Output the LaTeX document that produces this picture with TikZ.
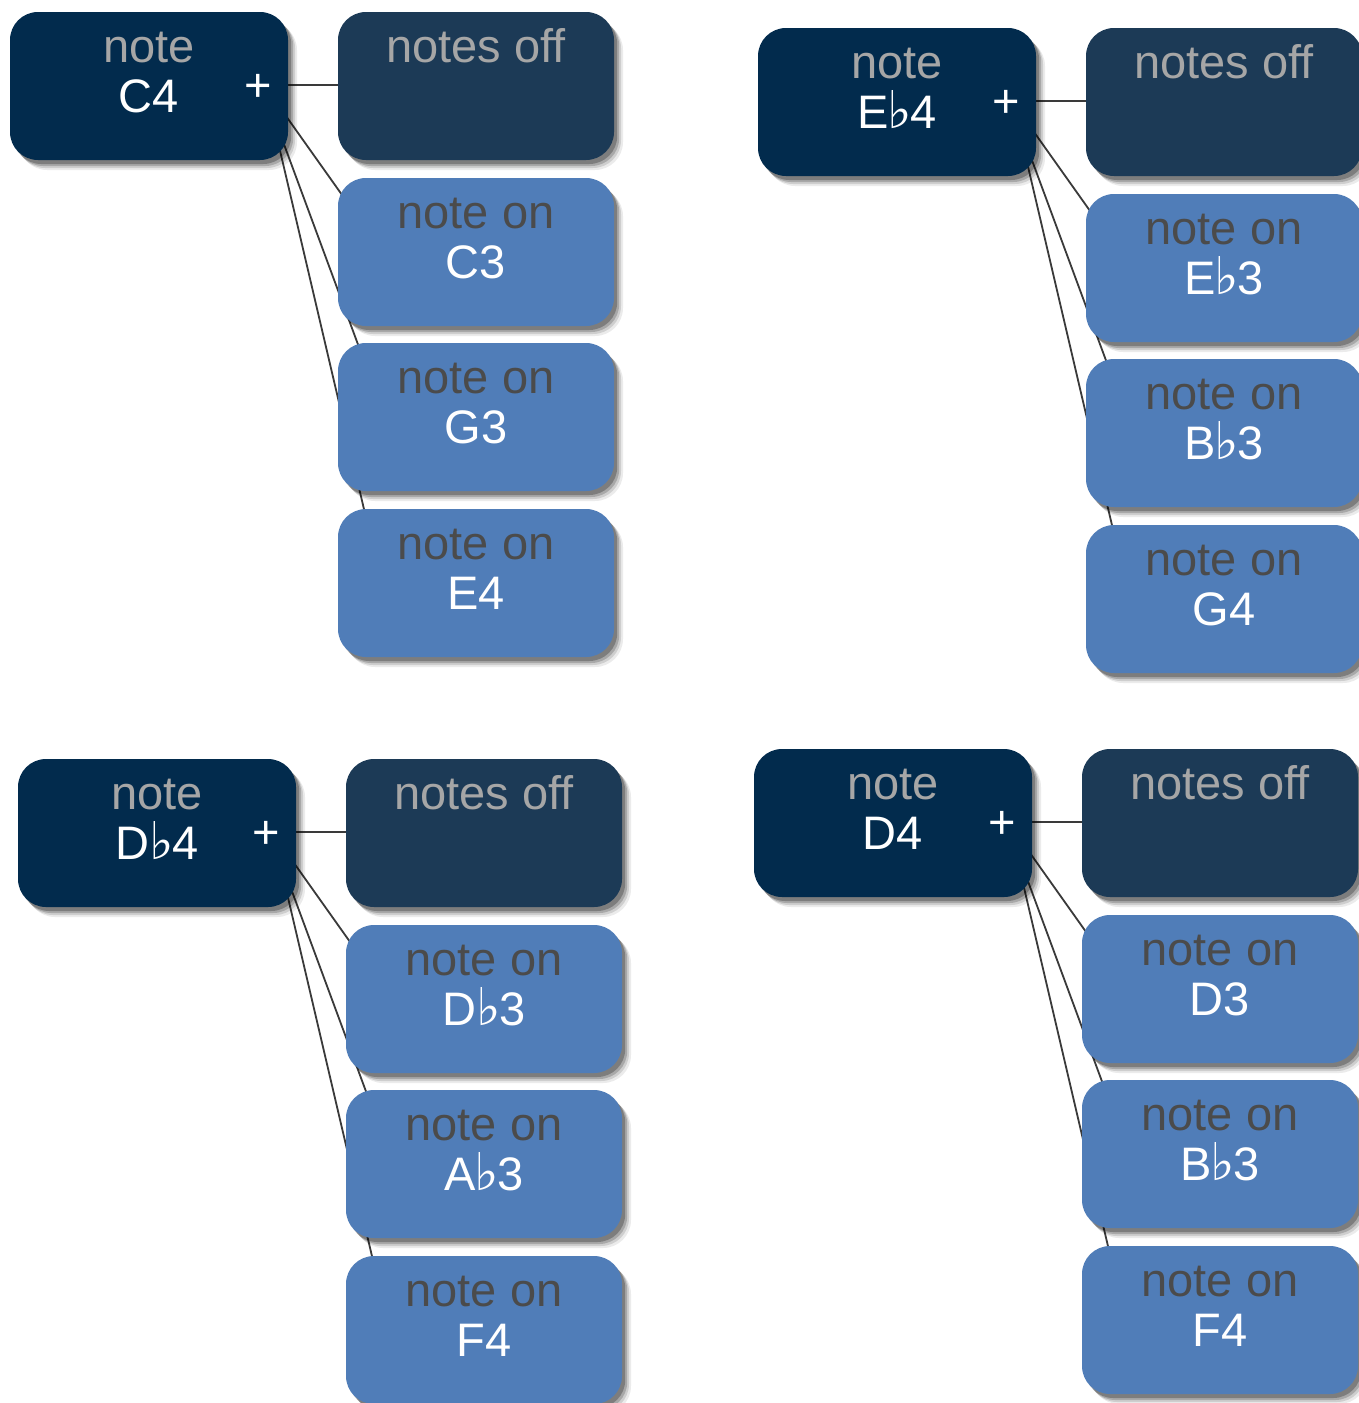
\documentclass[tikz,border=0pt]{standalone}
\usepackage{fontspec}
\setmainfont{Liberation Sans}
\newfontfamily\symf{DejaVu Sans}
\usetikzlibrary{calc,shadows}
\pgfdeclarelayer{background}
\pgfsetlayers{background,main}
\definecolor{pfill}{HTML}{022B4D}
\definecolor{ofill}{HTML}{1C3A56}
\definecolor{nfill}{HTML}{507DB8}
\definecolor{ltgray}{HTML}{A6A6A6}
\definecolor{dkgray}{HTML}{4B4B4B}
\definecolor{linec}{HTML}{3A3A3A}
\newcommand\flt{{\symf\fontsize{26}{26}\selectfont\kern-0.3pt♭\kern-0.8pt}}
\tikzset{
  box/.style={rounded corners=14pt, minimum height=74pt, minimum width=138pt, inner sep=0pt,
    general shadow={fill=black, opacity=0.08, shadow xshift=4.5pt, shadow yshift=-5pt},
    general shadow={fill=black, opacity=0.12, shadow xshift=3.5pt, shadow yshift=-4pt},
    general shadow={fill=black, opacity=0.18, shadow xshift=2.6pt, shadow yshift=-3pt},
    general shadow={fill=black, opacity=0.25, shadow xshift=1.6pt, shadow yshift=-2pt}},
  pbox/.style={box, fill=pfill, minimum width=139pt},
  obox/.style={box, fill=ofill},
  nbox/.style={box, fill=nfill},
  lab/.style={anchor=base, inner sep=0pt, font=\fontsize{23.5}{24}\selectfont},
  conn/.style={draw=linec, line width=0.9pt},
}
\newcommand\grp[6]{%
\begin{scope}[shift={#2}]
  \node[pbox] (#1p) at (149,86) {};
  \node[obox] (#1o) at (476,86) {};
  \node[nbox] (#1a) at (476,252) {};
  \node[nbox] (#1b) at (476,417) {};
  \node[nbox] (#1c) at (476,583) {};
  \node[lab, text=ltgray] (#1pt) at (149,62) {note};
  \node[lab, text=white] (#1pn) at (149,112) {#3};
  \node[lab, text=white, anchor=center] (#1pplus) at (258,88) {+};
  \node[lab, text=ltgray] (#1ot) at (476,62) {notes off};
  \node[lab, text=dkgray] (#1at) at (476,228) {note on};
  \node[lab, text=white] (#1an) at (476,278) {#4};
  \node[lab, text=dkgray] (#1bt) at (476,393) {note on};
  \node[lab, text=white] (#1bn) at (476,443) {#5};
  \node[lab, text=dkgray] (#1ct) at (476,559) {note on};
  \node[lab, text=white] (#1cn) at (476,609) {#6};
  \begin{pgfonlayer}{background}
    \draw[conn] ($(#1p.east)+(0,-1)$) -- ($(#1o.west)+(0,-1)$);
    \draw[conn] ($(#1p.east)+(-1,32)$) -- ($(#1a.north west)+(12,28)$);
    \draw[conn] ($(#1p.east)+(-6,54)$) -- ($(#1b.north west)+(26,17)$);
    \draw[conn] ($(#1p.east)+(-9,62)$) -- ($(#1c.north west)+(30,16)$);
  \end{pgfonlayer}
\end{scope}}
\begin{document}
\begin{tikzpicture}[x=0.5pt, y=-0.5pt]
  \begin{pgfonlayer}{background}
    \fill[white] (0,0) rectangle (1359,1403);
  \end{pgfonlayer}
  \useasboundingbox (0,0) rectangle (1359,1403);
  \grp{a}{(0,0)}{C4}{C3}{G3}{E4}
  \grp{b}{(748,16)}{E\flt4}{E\flt3}{B\flt3}{G4}
  \grp{c}{(8,747)}{D\flt4}{D\flt3}{A\flt3}{F4}
  \grp{d}{(744,737)}{D4}{D3}{B\flt3}{F4}
\end{tikzpicture}
\end{document}
